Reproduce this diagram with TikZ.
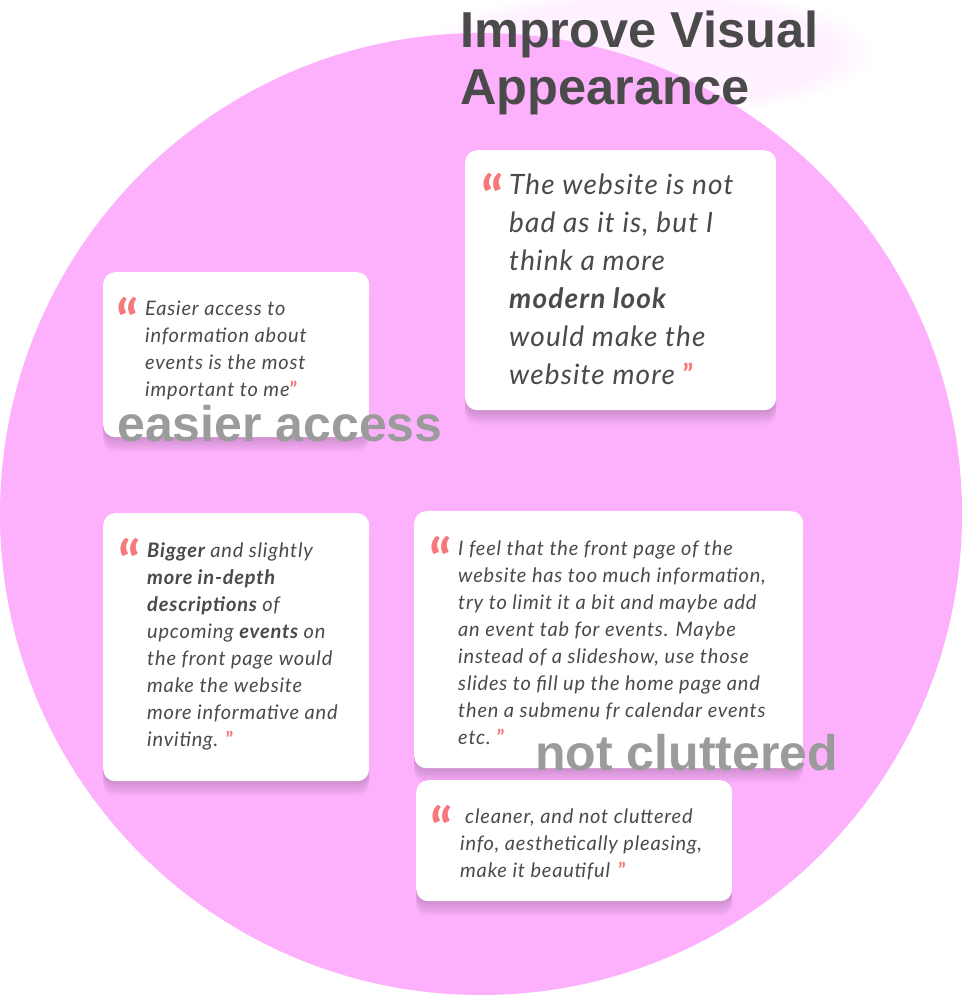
\documentclass[tikz,border=0pt]{standalone}
\usepackage{fontspec}
\setmainfont{Lato}
\newfontfamily\quotefont{Lato}[LetterSpace=4]
\newfontfamily\headfont{Liberation Sans}
\usepackage{xcolor}
\usetikzlibrary{positioning,shadows,fadings}
\definecolor{bubble}{HTML}{FDB1FD}
\definecolor{inkgray}{HTML}{4A4A4A}
\definecolor{taggray}{HTML}{9B9B9B}
\definecolor{quotered}{HTML}{F7787A}
\tikzset{
  softshadow/.style={drop shadow={shadow xshift=0pt, shadow yshift=#1, opacity=0.025, fill=black}},
  card/.style={fill=white, rounded corners=12pt, anchor=north west, inner sep=0pt,
               softshadow=-1pt, softshadow=-3pt, softshadow=-5pt, softshadow=-7pt,
               softshadow=-9pt, softshadow=-11pt, softshadow=-13pt, softshadow=-15pt},
  quotetext/.style={anchor=base west, inner sep=0pt, text=inkgray},
  smallq/.style={font=\quotefont\fontsize{20}{27}\selectfont\itshape},
  bigq/.style={font=\quotefont\fontsize{28}{38}\selectfont\itshape},
  openq/.style={anchor=north east, inner sep=0pt, text=quotered,
                font=\fontsize{58}{58}\selectfont\bfseries},
  tag/.style={anchor=base west, inner sep=0pt, text=taggray,
              font=\headfont\bfseries\fontsize{50}{50}\selectfont},
}
\newcommand{\closeq}{\textcolor{quotered}{\upshape\bfseries ”}}

\begin{document}
\begin{tikzpicture}[x=1pt, y=-1pt]
    \fill[white] (0,0) rectangle (962,995);
    \useasboundingbox (0,0) rectangle (962,995);
    % glow and bubble
    \fill[bubble!18, path fading=circle with fuzzy edge 20 percent]
      (650,52) ellipse [x radius=225pt, y radius=65pt];
    \fill[bubble] (481,514) circle [radius=481pt];
    \node[anchor=base west, inner sep=0pt, text=inkgray,
          font=\headfont\bfseries\fontsize{50.5}{57}\selectfont] (title) at (460,48) {%
      \begin{tabular}[t]{@{}l@{}}Improve Visual\\ Appearance\end{tabular}};

    % top right quote
    \node[card, minimum width=311pt, minimum height=260pt] (look) at (465,150) {};
    \node[quotetext, bigq] (lookq) at (509,194) {%
      \begin{tabular}[t]{@{}l@{}}
        The website is not\\
        bad as it is, but I\\
        think a more\\
        {\bfseries modern look}\\
        would make the\\
        website more \closeq
      \end{tabular}};
    \node[openq] (lookopen) at (504,173) {“};

    % easier access
    \node[card, minimum width=266pt, minimum height=165pt] (access) at (103,272) {};
    \node[quotetext, smallq] (accessq) at (145,315) {%
      \begin{tabular}[t]{@{}l@{}}
        Easier access to\\
        information about\\
        events is the most\\
        important to me\closeq
      \end{tabular}};
    \node[openq] (accessopen) at (139,297) {“};
    \node[tag] (accesstag) at (117,441) {easier access};

    % in-depth descriptions
    \node[card, minimum width=266pt, minimum height=268pt] (depth) at (103,513) {};
    \node[quotetext, smallq] (depthq) at (147,557) {%
      \begin{tabular}[t]{@{}l@{}}
        {\bfseries Bigger} and slightly\\
        {\bfseries more in-depth}\\
        {\bfseries descriptions} of\\
        upcoming {\bfseries events} on\\
        the front page would\\
        make the website\\
        more informative and\\
        inviting. \closeq
      \end{tabular}};
    \node[openq] (depthopen) at (141,538) {“};

    % front page
    \node[card, minimum width=389pt, minimum height=257pt] (front) at (414,511) {};
    \node[quotetext, smallq] (frontq) at (458,555) {%
      \begin{tabular}[t]{@{}l@{}}
        I feel that the front page of the\\
        website has too much information,\\
        try to limit it a bit and maybe add\\
        an event tab for events. Maybe\\
        instead of a slideshow, use those\\
        slides to fill up the home page and\\
        then a submenu fr calendar events\\
        etc.\hspace{6pt}\closeq
      \end{tabular}};
    \node[openq] (frontopen) at (452,536) {“};
    \node[tag] (fronttag) at (535,770) {not cluttered};

    % cleaner
    \node[card, minimum width=316pt, minimum height=121pt] (clean) at (416,780) {};
    \node[quotetext, smallq] (cleanq) at (460,823) {%
      \begin{tabular}[t]{@{}l@{}}
        \hspace{5pt}cleaner, and not cluttered\\
        info, aesthetically pleasing,\\
        make it beautiful\hspace{8pt}\closeq
      \end{tabular}};
    \node[openq] (cleanopen) at (453,805) {“};
\end{tikzpicture}
\end{document}
